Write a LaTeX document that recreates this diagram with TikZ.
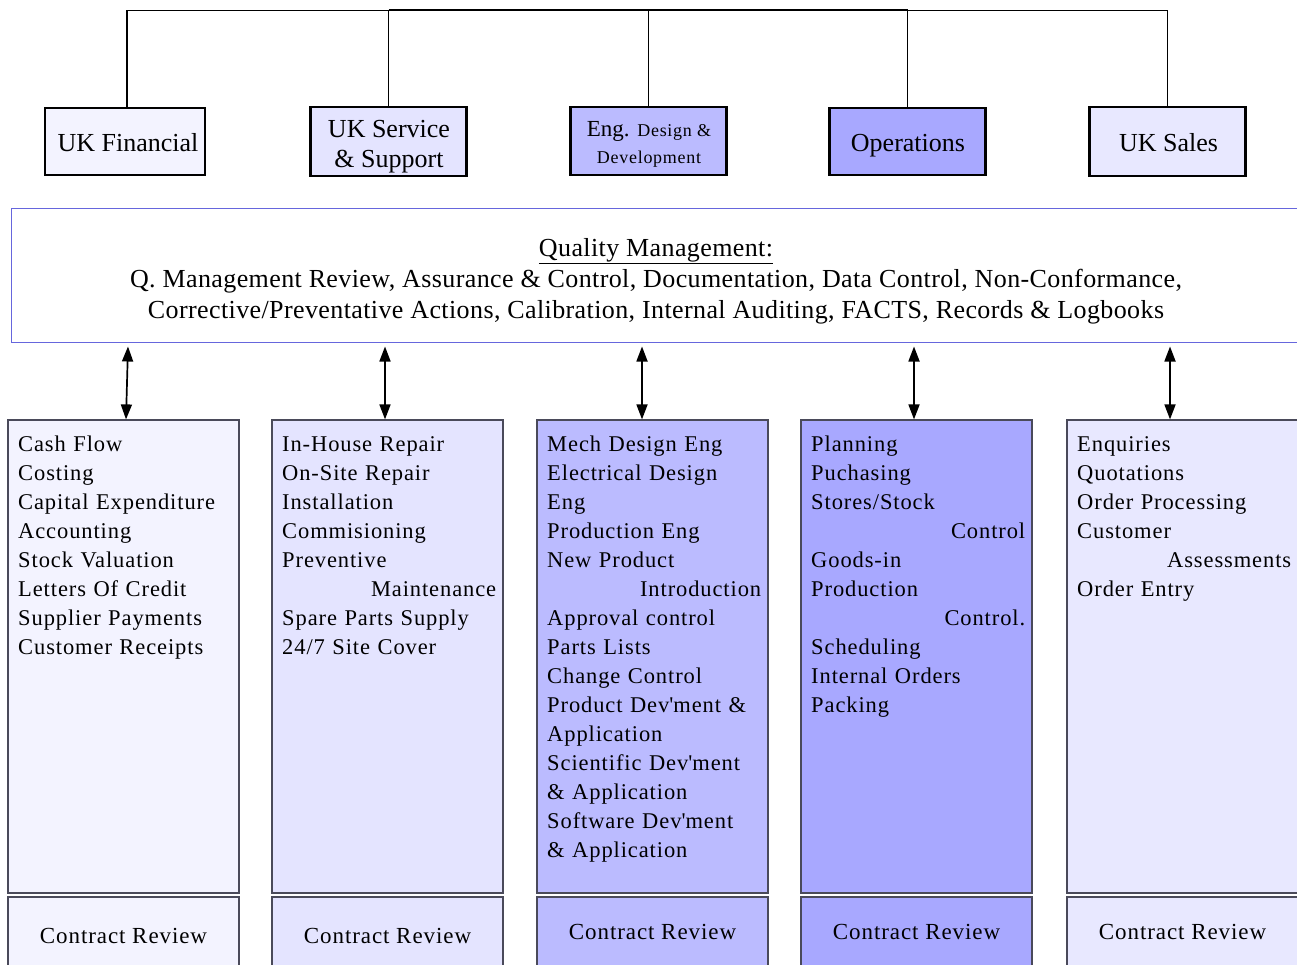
\documentclass[tikz,border=0pt]{standalone}
\usepackage{fontspec}
\setmainfont{Liberation Serif}
\newfontfamily\colfont{Liberation Serif}[LetterSpace=4]
\newfontfamily\qmfont{Liberation Serif}[LetterSpace=1.5]
\usetikzlibrary{arrows.meta}

\definecolor{fillA}{HTML}{F3F3FF}
\definecolor{fillB}{HTML}{E4E4FF}
\definecolor{fillC}{HTML}{BBBBFF}
\definecolor{fillD}{HTML}{A8A8FF}
\definecolor{fillE}{HTML}{E8E8FF}
\definecolor{qline}{HTML}{6666DD}
\definecolor{colline}{HTML}{4A4A5A}

\newcommand{\apos}{\textquotesingle{}}
\newcommand{\rline}[1]{\leavevmode\hfill #1}

\begin{document}
\begin{tikzpicture}[x=1pt,y=-1pt,
  headbox/.style={draw=black, line width=2.5pt, inner sep=0pt,
    minimum width=156pt, minimum height=68pt},
  headtext/.style={anchor=base, inner sep=0pt, align=center,
    font=\fontsize{26}{30}\selectfont},
  link/.style={draw=black, line width=1.6pt},
  qbox/.style={draw=qline, line width=1pt, fill=white, inner sep=0pt,
    minimum width=1290pt, minimum height=133pt},
  qtext/.style={anchor=base, align=center, inner sep=0pt,
    font=\qmfont\fontsize{26}{31}\selectfont},
  dbl/.style={line width=1.7pt,
    {Triangle[length=15pt,width=11pt]}-{Triangle[length=15pt,width=11pt]}},
  colbox/.style={draw=colline, line width=1.2pt, inner sep=0pt,
    minimum width=231pt, minimum height=473pt},
  coltext/.style={anchor=north west, inner sep=0pt, align=left,
    text width=214pt, font=\colfont\fontsize{22.5}{29}\selectfont},
  crbox/.style={draw=colline, line width=1.2pt, inner sep=0pt,
    minimum width=231pt, font=\colfont\fontsize{23}{29}\selectfont}
]
\useasboundingbox (0,0) rectangle (1297,965);
\fill[white] (0,0) rectangle (1297,965);

% department heads
\node[headbox, fill=fillA, minimum width=160pt, minimum height=67pt] (fin) at (125,141.5) {};
\node[headbox, fill=fillB, minimum height=69pt] (svc) at (388.5,141.5) {};
\node[headbox, fill=fillC] (eng) at (648.5,141) {};
\node[headbox, fill=fillD, minimum height=67pt] (ops) at (907.5,141.5) {};
\node[headbox, fill=fillE, minimum height=69pt] (sal) at (1167.5,141.5) {};

% head labels (base anchor sits on the last line)
\node[headtext] (finT) at (128,152) {UK Financial};
\node[headtext] (svcT) at (389,168) {UK Service\\\& Support};
\node[headtext, font=\fontsize{23}{27}\selectfont] (engT) at (649,164)
  {Eng. {\colfont\fontsize{18}{27}\selectfont Design \&}\\{\colfont\fontsize{18}{27}\selectfont Development}};
\node[headtext] (opsT) at (908,152) {Operations};
\node[headtext] (salT) at (1168.5,152) {UK Sales};

% reporting bus
\coordinate (bus) at (0,10.5);
\draw[link] (fin.north -| 127,0) |- (sal.north |- bus) -- (sal.north);
\draw[link, line width=2.6pt] ([yshift=0.5pt]svc.north |- bus) -- ([yshift=0.5pt]ops.north |- bus);
\draw[link] (svc.north) -- (svc.north |- bus);
\draw[link] (eng.north) -- (eng.north |- bus);
\draw[link] (ops.north) -- (ops.north |- bus);

% quality management band
\node[qbox] (qm) at (656,275.5) {};
\node[qtext] (qmt) at (656,318.5) {\underline{Quality Management:}\\
  Q. Management Review, Assurance \& Control, Documentation, Data Control, Non-Conformance,\\
  Corrective/Preventative Actions, Calibration, Internal Auditing, FACTS, Records \& Logbooks};

% columns
\node[colbox, fill=fillA] (c1) at (123.5,656.5) {};
\node[colbox, fill=fillB] (c2) at (387.5,656.5) {};
\node[colbox, fill=fillC] (c3) at (652.5,656.5) {};
\node[colbox, fill=fillD] (c4) at (916.5,656.5) {};
\node[colbox, fill=fillE] (c5) at (1182.5,656.5) {};

\node[coltext] (t1) at (18,436) {Cash Flow\\Costing\\Capital Expenditure\\Accounting\\Stock Valuation\\Letters Of Credit\\Supplier Payments\\Customer Receipts};
\node[coltext] (t2) at (282,436) {In-House Repair\\On-Site Repair\\Installation\\Commisioning\\Preventive\\\rline{Maintenance}\\Spare Parts Supply\\24/7 Site Cover};
\node[coltext] (t3) at (547,436) {Mech Design Eng\\Electrical Design\\Eng\\Production Eng\\New Product\\\rline{Introduction}\\Approval control\\Parts Lists\\Change Control\\Product Dev\apos ment \&\\Application\\Scientific Dev\apos ment\\\& Application\\Software Dev\apos ment\\\& Application};
\node[coltext] (t4) at (811,436) {Planning\\Puchasing\\Stores/Stock\\\rline{Control}\\Goods-in\\Production\\\rline{Control.}\\Scheduling\\Internal Orders\\Packing};
\node[coltext] (t5) at (1077,436) {Enquiries\\Quotations\\Order Processing\\Customer\\\rline{Assessments}\\Order Entry};

% contract review footers
\node[crbox, fill=fillA, minimum height=78pt] (r1) at (123.5,936) {Contract Review};
\node[crbox, fill=fillB, minimum height=78pt] (r2) at (387.5,936) {Contract Review};
\node[crbox, fill=fillC, minimum height=70pt] (r3) at (652.5,932) {Contract Review};
\node[crbox, fill=fillD, minimum height=70pt] (r4) at (916.5,932) {Contract Review};
\node[crbox, fill=fillE, minimum height=70pt] (r5) at (1182.5,932) {Contract Review};

% links between the quality band and each column
\draw[dbl] ([yshift=-4pt]qm.south -| 128,0) -- (c1.north -| 126,0);
\draw[dbl] ([yshift=-4pt]qm.south -| 385,0) -- (c2.north -| 385,0);
\draw[dbl] ([yshift=-4pt]qm.south -| 642,0) -- (c3.north -| 642,0);
\draw[dbl] ([yshift=-4pt]qm.south -| 914,0) -- (c4.north -| 914,0);
\draw[dbl] ([yshift=-4pt]qm.south -| 1170,0) -- (c5.north -| 1170,0);
\end{tikzpicture}
\end{document}
